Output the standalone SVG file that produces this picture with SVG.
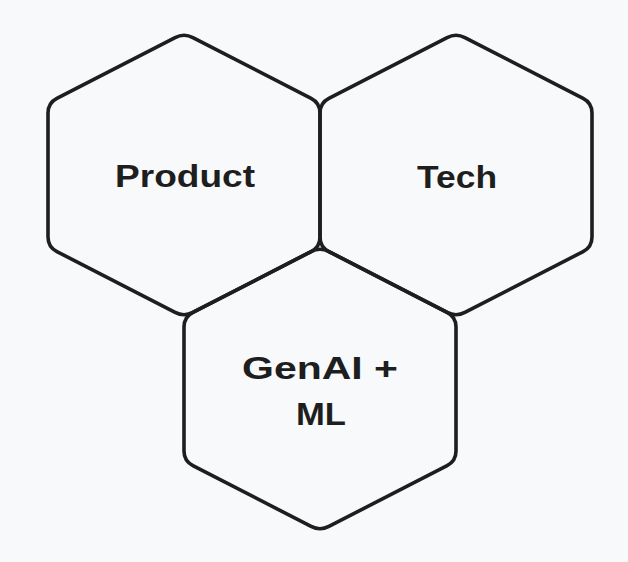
<svg xmlns="http://www.w3.org/2000/svg" xmlns:xlink="http://www.w3.org/1999/xlink" width="628" height="562" viewBox="0 0 628 562">
  <style>
    .hex { fill: none; stroke: #1e1e1e; stroke-width: 3.6; stroke-linejoin: round; }
    .lbl { font-family: "Liberation Sans", Arial, sans-serif; font-weight: 700; font-size: 32px; fill: #1e1e1e; text-anchor: middle; }
  </style>
  <defs>
    <path id="hexShape" d="M 8.89,-137.42 L 127.11,-76.58 Q 136,-72 136,-62 L 136,62 Q 136,72 127.11,76.58 L 8.89,137.42 Q 0,142 -8.89,137.42 L -127.11,76.58 Q -136,72 -136,62 L -136,-62 Q -136,-72 -127.11,-76.58 L -8.89,-137.42 Q 0,-142 8.89,-137.42 Z"/>
  </defs>
  <rect x="0" y="0" width="628" height="562" fill="#f8f9fb"/>
  <g id="node-product">
    <use xlink:href="#hexShape" href="#hexShape" class="hex" transform="translate(184,175)"/>
    <text class="lbl" x="185" y="187" textLength="140" lengthAdjust="spacingAndGlyphs">Product</text>
  </g>
  <g id="node-tech">
    <use xlink:href="#hexShape" href="#hexShape" class="hex" transform="translate(456,175)"/>
    <text class="lbl" x="457" y="188" textLength="80" lengthAdjust="spacingAndGlyphs">Tech</text>
  </g>
  <g id="node-genai">
    <use xlink:href="#hexShape" href="#hexShape" class="hex" transform="translate(320,389)"/>
    <text class="lbl" x="320" y="379" textLength="156" lengthAdjust="spacingAndGlyphs">GenAI +</text>
    <text class="lbl" x="321" y="425" textLength="50" lengthAdjust="spacingAndGlyphs">ML</text>
  </g>
  <g id="connectors"></g>
</svg>
